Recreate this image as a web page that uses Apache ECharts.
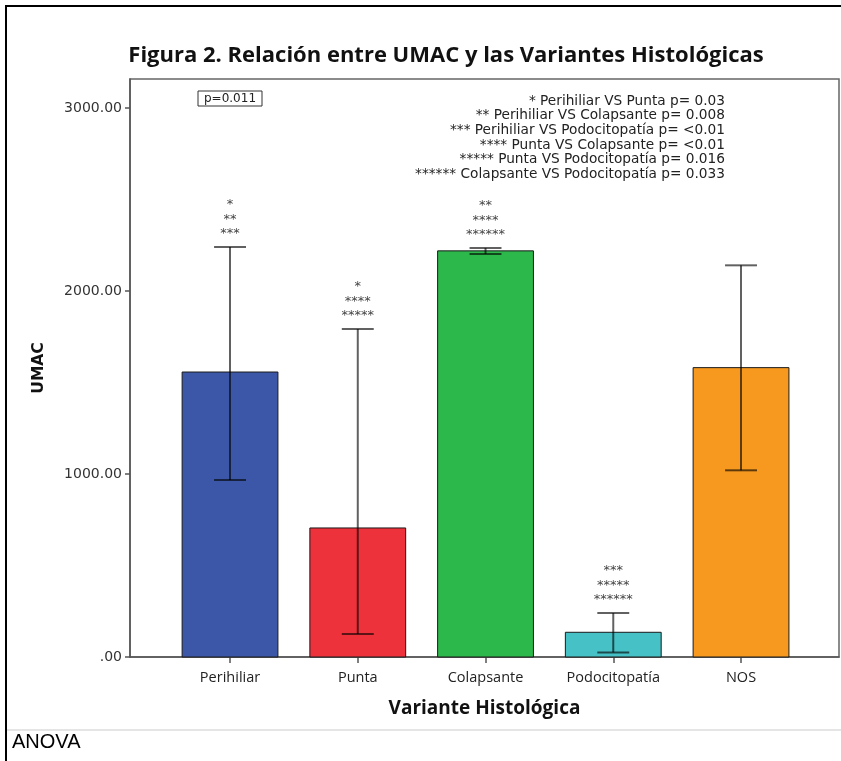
<!DOCTYPE html>
<html>
<head>
<meta charset="utf-8">
<script src="https://cdn.jsdelivr.net/npm/echarts@6/dist/echarts.min.js"></script>
<style>
  html, body { margin: 0; padding: 0; background: #ffffff; }
  #chart { width: 841px; height: 761px; }
</style>
</head>
<body>
<div id="chart"></div>
<script>
// UMAC by histological variant: mean bars with error bars and pairwise significance marks
const categories = ['Perihiliar', 'Punta', 'Colapsante', 'Podocitopatía', 'NOS'];
const means = [1557, 705, 2219, 135, 1581];
const errLow = [967, 126, 2202, 25, 1020];
const errHigh = [2240, 1792, 2235, 240, 2140];
const starMarks = [
  ['*', '**', '***'],
  ['*', '****', '*****'],
  ['**', '****', '******'],
  ['***', '*****', '******'],
  []
];
const barColors = ['#3D57A8', '#EE323C', '#2DB84B', '#46C2C6', '#F7991E'];
const yTicks = [0, 1000, 2000, 3000];
const yTickLabels = ['.00', '1000.00', '2000.00', '3000.00'];
const comparisons = [
  '* Perihiliar VS Punta p= 0.03',
  '** Perihiliar VS Colapsante p= 0.008',
  '*** Perihiliar VS Podocitopatía p= <0.01',
  '**** Punta VS Colapsante p= <0.01',
  '***** Punta VS Podocitopatía p= 0.016',
  '****** Colapsante VS Podocitopatía p= 0.033'
];
const anovaP = 'p=0.011';

const chart = echarts.init(document.getElementById('chart'), null, { renderer: 'canvas' });

const idx = categories.map((_, i) => i);
const barWidthUnits = 0.75;
const capWidthUnits = 0.25;

const option = {
  backgroundColor: '#ffffff',
  animation: false,
  title: {
    text: 'Figura 2. Relación entre UMAC y las Variantes Histológicas',
    left: 441,
    textAlign: 'center',
    top: 40,
    textStyle: { fontFamily: 'Open Sans', fontWeight: 'bold', fontSize: 22, color: '#111' }
  },
  grid: {
    left: 130, top: 79, width: 709, height: 578,
    show: true, borderColor: '#666', borderWidth: 1.5, backgroundColor: 'transparent'
  },
  xAxis: {
    type: 'value',
    min: -0.783,
    max: 4.767,
    splitLine: { show: false },
    axisLine: { show: true, onZero: false, lineStyle: { color: '#555', width: 1.5 } },
    axisTick: { show: true, length: 6, customValues: idx, lineStyle: { color: '#555', width: 1.5 } },
    axisLabel: {
      customValues: idx,
      formatter: v => categories[Math.round(v)],
      margin: 13,
      fontFamily: 'Open Sans', fontSize: 14.5, color: '#222'
    },
    name: 'Variante Histológica',
    nameLocation: 'middle',
    nameGap: 42,
    nameTextStyle: { fontFamily: 'Open Sans', fontWeight: 'bold', fontSize: 19, color: '#111' }
  },
  yAxis: {
    type: 'value',
    min: 0,
    max: 3158,
    splitLine: { show: false },
    axisLine: { show: true, onZero: false, lineStyle: { color: '#555', width: 1.5 } },
    axisTick: { show: true, length: 5, customValues: yTicks, lineStyle: { color: '#555', width: 1.5 } },
    axisLabel: {
      customValues: yTicks,
      formatter: v => yTickLabels[yTicks.indexOf(v)],
      margin: 8,
      fontFamily: 'DejaVu Sans', fontSize: 14, color: '#333'
    },
    name: 'UMAC',
    nameLocation: 'middle',
    nameGap: 83,
    nameRotate: 90,
    nameTextStyle: { fontFamily: 'DejaVu Sans', fontWeight: 'bold', fontSize: 15.5, color: '#111' }
  },
  series: [
    {
      type: 'custom',
      name: 'mean',
      data: idx.map(i => [i, means[i]]),
      renderItem: (params, api) => {
        const i = api.value(0);
        const top = api.coord([i, api.value(1)]);
        const base = api.coord([i, 0]);
        const w = api.size([barWidthUnits, 0])[0];
        return {
          type: 'rect',
          shape: { x: top[0] - w / 2, y: top[1], width: w, height: base[1] - top[1] },
          style: { fill: barColors[i], stroke: '#1a1a1a', lineWidth: 1 }
        };
      },
      z: 2
    },
    {
      type: 'custom',
      name: 'error',
      data: idx.map(i => [i, errLow[i], errHigh[i]]),
      renderItem: (params, api) => {
        const i = api.value(0);
        const lo = api.coord([i, api.value(1)]);
        const hi = api.coord([i, api.value(2)]);
        const cw = api.size([capWidthUnits, 0])[0];
        const st = { stroke: 'rgba(0,0,0,0.62)', lineWidth: 2 };
        return {
          type: 'group',
          children: [
            { type: 'line', shape: { x1: hi[0], y1: hi[1], x2: lo[0], y2: lo[1] }, style: st },
            { type: 'line', shape: { x1: hi[0] - cw / 2, y1: hi[1], x2: hi[0] + cw / 2, y2: hi[1] }, style: st },
            { type: 'line', shape: { x1: lo[0] - cw / 2, y1: lo[1], x2: lo[0] + cw / 2, y2: lo[1] }, style: st }
          ]
        };
      },
      z: 3
    },
    {
      type: 'custom',
      name: 'stars',
      data: idx.map(i => [i, errHigh[i]]),
      renderItem: (params, api) => {
        const i = api.value(0);
        const p = api.coord([i, api.value(1)]);
        return {
          type: 'text',
          x: p[0],
          y: p[1] - 6,
          style: {
            text: starMarks[i].join('\n'),
            align: 'center',
            verticalAlign: 'bottom',
            lineHeight: 14.5,
            fontFamily: 'DejaVu Sans',
            fontSize: 13,
            fill: '#444'
          }
        };
      },
      z: 4
    }
  ],
  graphic: [
    {
      type: 'rect', silent: true,
      shape: { x: 6, y: 6, width: 900, height: 900 },
      style: { fill: 'none', stroke: '#000', lineWidth: 2 }
    },
    {
      type: 'line', silent: true,
      shape: { x1: 7, y1: 730, x2: 841, y2: 730 },
      style: { stroke: '#dddddd', lineWidth: 1.5 }
    },
    {
      type: 'text', x: 12, y: 742,
      style: { text: 'ANOVA', verticalAlign: 'middle', fontFamily: 'Liberation Sans', fontSize: 20, fill: '#000' }
    },
    {
      type: 'group', x: 198, y: 91,
      children: [
        { type: 'rect', shape: { x: 0, y: 0, width: 64, height: 15 }, style: { fill: '#fff', stroke: '#333', lineWidth: 1 } },
        { type: 'text', x: 32, y: 8, style: { text: anovaP, align: 'center', verticalAlign: 'middle', fontFamily: 'DejaVu Sans', fontSize: 12, fill: '#222' } }
      ]
    },
    {
      type: 'text', x: 725, y: 94,
      style: {
        text: comparisons.join('\n'),
        align: 'right', verticalAlign: 'top',
        lineHeight: 14.6,
        fontFamily: 'DejaVu Sans', fontSize: 13.7, fill: '#222'
      }
    }
  ]
};

chart.setOption(option);
</script>
</body>
</html>
